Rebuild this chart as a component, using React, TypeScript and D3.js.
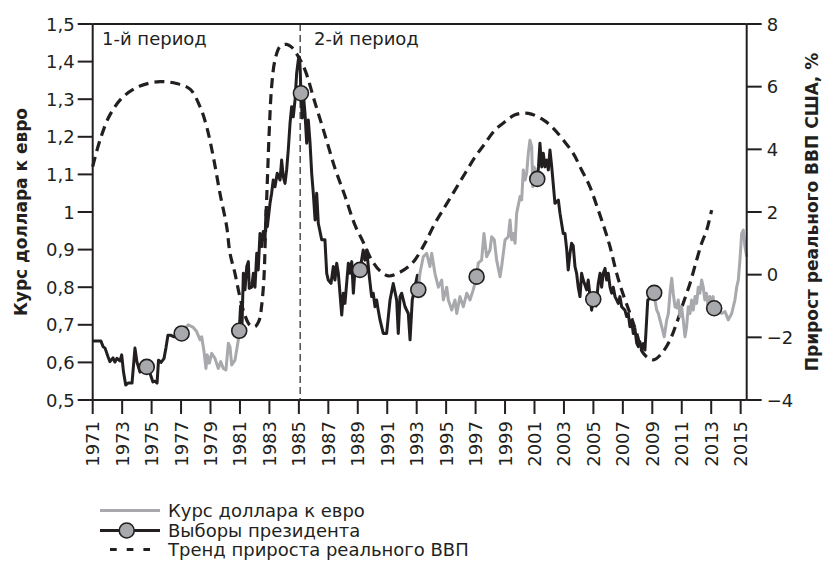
import React from "react";
import * as d3 from "d3";

// ---------- DATA ----------
const xTickYears: number[] = d3.range(1971, 2016, 2);
const leftTicks: number[] = [0.5, 0.6, 0.7, 0.8, 0.9, 1.0, 1.1, 1.2, 1.3, 1.4, 1.5];
const leftTickLabels: string[] = ["0,5", "0,6", "0,7", "0,8", "0,9", "1", "1,1", "1,2", "1,3", "1,4", "1,5"];
const rightTicks: number[] = [-4, -2, 0, 2, 4, 6, 8];
const rightTickLabels: string[] = ["\u22124", "\u22122", "0", "2", "4", "6", "8"];

// exchange rate, periods of Republican administrations (black)
const rateBlack1: [number, number][] = [
  [1971.0, 0.657], [1971.56, 0.657], [1971.7, 0.642], [1971.84, 0.638], [1972.04, 0.615],
  [1972.17, 0.602], [1972.38, 0.612], [1972.51, 0.601], [1972.65, 0.611], [1972.85, 0.604],
  [1972.97, 0.62], [1973.09, 0.575], [1973.24, 0.54], [1973.4, 0.545], [1973.67, 0.545],
  [1973.87, 0.638], [1974.01, 0.6], [1974.21, 0.574], [1974.42, 0.585], [1974.67, 0.588],
  [1974.89, 0.571], [1975.09, 0.548], [1975.23, 0.55], [1975.37, 0.545], [1975.47, 0.606],
  [1975.64, 0.6], [1975.84, 0.61], [1975.98, 0.64], [1976.11, 0.672], [1976.32, 0.672],
  [1976.52, 0.668], [1976.72, 0.675], [1977.04, 0.677],
];
const rateGray1: [number, number][] = [
  [1977.04, 0.677], [1977.27, 0.69], [1977.49, 0.7], [1977.83, 0.693], [1978.06, 0.682],
  [1978.29, 0.66], [1978.4, 0.668], [1978.56, 0.629], [1978.69, 0.584], [1978.78, 0.62],
  [1978.92, 0.598], [1979.08, 0.624], [1979.3, 0.611], [1979.53, 0.584], [1979.69, 0.602],
  [1979.87, 0.584], [1980.05, 0.58], [1980.21, 0.651], [1980.32, 0.642], [1980.44, 0.593],
  [1980.66, 0.606], [1980.89, 0.66], [1980.95, 0.684],
];
const rateBlack2: [number, number][] = [
  [1980.95, 0.684], [1981.04, 0.75], [1981.14, 0.7], [1981.23, 0.837], [1981.34, 0.793],
  [1981.46, 0.855], [1981.57, 0.868], [1981.63, 0.797], [1981.8, 0.8], [1981.91, 0.837],
  [1982.02, 0.8], [1982.14, 0.89], [1982.24, 0.846], [1982.36, 0.943], [1982.48, 0.908],
  [1982.58, 0.948], [1982.7, 0.926], [1982.77, 1.005], [1982.86, 0.961], [1983.04, 1.023],
  [1983.15, 1.05], [1983.26, 1.085], [1983.38, 1.067], [1983.53, 1.103], [1983.72, 1.085],
  [1983.83, 1.138], [1983.94, 1.094], [1984.06, 1.076], [1984.17, 1.112], [1984.28, 1.165],
  [1984.4, 1.236], [1984.51, 1.28], [1984.62, 1.253], [1984.74, 1.298], [1984.85, 1.369],
  [1984.96, 1.404], [1985.04, 1.412], [1985.09, 1.38], [1985.14, 1.316], [1985.23, 1.25],
  [1985.3, 1.316], [1985.42, 1.26], [1985.53, 1.183], [1985.64, 1.245], [1985.76, 1.183],
  [1985.87, 1.103], [1985.98, 1.05], [1986.1, 0.979], [1986.21, 1.05], [1986.32, 0.97],
  [1986.55, 0.926], [1986.77, 0.926], [1986.89, 0.837], [1987.0, 0.819], [1987.18, 0.81],
  [1987.34, 0.855], [1987.45, 0.819], [1987.57, 0.864], [1987.68, 0.837], [1987.79, 0.784],
  [1987.91, 0.726], [1988.02, 0.784], [1988.13, 0.757], [1988.36, 0.864], [1988.47, 0.837],
  [1988.59, 0.868], [1988.7, 0.784], [1988.81, 0.846], [1989.01, 0.85], [1989.15, 0.846],
  [1989.37, 0.899], [1989.49, 0.872], [1989.61, 0.899], [1989.76, 0.837], [1989.94, 0.775],
  [1990.05, 0.784], [1990.17, 0.748], [1990.28, 0.766], [1990.39, 0.739], [1990.51, 0.713],
  [1990.73, 0.677], [1990.96, 0.677], [1991.19, 0.766], [1991.41, 0.81], [1991.64, 0.766],
  [1991.75, 0.677], [1991.87, 0.775], [1991.98, 0.784], [1992.21, 0.748], [1992.43, 0.73],
  [1992.55, 0.66], [1992.7, 0.766], [1992.88, 0.8], [1993.05, 0.832], [1993.11, 0.793],
];
const rateGray2: [number, number][] = [
  [1993.11, 0.793], [1993.22, 0.837], [1993.45, 0.881], [1993.68, 0.89], [1993.9, 0.855],
  [1994.02, 0.89], [1994.24, 0.837], [1994.47, 0.8], [1994.7, 0.819], [1994.81, 0.766],
  [1995.04, 0.8], [1995.15, 0.766], [1995.38, 0.739], [1995.6, 0.766], [1995.72, 0.73],
  [1995.94, 0.775], [1996.17, 0.748], [1996.4, 0.784], [1996.62, 0.766], [1996.84, 0.793],
  [1997.07, 0.828], [1997.18, 0.864], [1997.41, 0.872], [1997.57, 0.943], [1997.75, 0.881],
  [1997.98, 0.899], [1998.09, 0.934], [1998.27, 0.926], [1998.43, 0.872], [1998.66, 0.828],
  [1998.77, 0.855], [1999.0, 0.926], [1999.22, 0.934], [1999.34, 0.979], [1999.45, 0.926],
  [1999.56, 0.943], [1999.68, 0.917], [1999.79, 0.997], [2000.02, 1.041], [2000.13, 1.032],
  [2000.24, 1.112], [2000.36, 1.085], [2000.47, 1.103], [2000.58, 1.156], [2000.69, 1.191],
  [2000.81, 1.174], [2000.88, 1.067], [2000.97, 1.12], [2001.19, 1.088],
];
const rateBlack3: [number, number][] = [
  [2001.19, 1.088], [2001.27, 1.12], [2001.37, 1.183], [2001.49, 1.12], [2001.6, 1.156],
  [2001.71, 1.12], [2001.83, 1.138], [2001.94, 1.112], [2002.05, 1.165], [2002.17, 1.12],
  [2002.39, 1.023], [2002.62, 1.032], [2002.73, 0.997], [2002.95, 0.943], [2003.07, 0.943],
  [2003.19, 0.899], [2003.29, 0.846], [2003.41, 0.89], [2003.52, 0.917], [2003.63, 0.91],
  [2003.75, 0.855], [2003.86, 0.837], [2003.97, 0.8], [2004.09, 0.775], [2004.2, 0.837],
  [2004.31, 0.819], [2004.54, 0.793], [2004.65, 0.819], [2004.88, 0.739], [2004.99, 0.768],
  [2005.18, 0.75], [2005.33, 0.81], [2005.45, 0.837], [2005.56, 0.8], [2005.67, 0.837],
  [2005.79, 0.85], [2005.9, 0.819], [2006.01, 0.837], [2006.13, 0.8], [2006.24, 0.784],
  [2006.35, 0.8], [2006.47, 0.775], [2006.69, 0.757], [2006.8, 0.775], [2006.92, 0.748],
  [2007.14, 0.739], [2007.26, 0.722], [2007.37, 0.73], [2007.48, 0.695], [2007.6, 0.71],
  [2007.71, 0.677], [2007.82, 0.69], [2007.94, 0.651], [2008.05, 0.642], [2008.16, 0.655],
  [2008.28, 0.633], [2008.39, 0.65], [2008.5, 0.633], [2008.69, 0.766], [2008.84, 0.77],
  [2009.13, 0.785],
];
const rateGray3: [number, number][] = [
  [2009.13, 0.785], [2009.18, 0.766], [2009.3, 0.739], [2009.41, 0.73], [2009.64, 0.695],
  [2009.81, 0.668], [2009.98, 0.713], [2010.09, 0.73], [2010.2, 0.784], [2010.32, 0.824],
  [2010.42, 0.784], [2010.54, 0.748], [2010.65, 0.745], [2010.76, 0.766], [2010.88, 0.722],
  [2010.99, 0.748], [2011.1, 0.713], [2011.22, 0.668], [2011.33, 0.695], [2011.44, 0.748],
  [2011.56, 0.73], [2011.67, 0.766], [2011.78, 0.739], [2011.9, 0.775], [2012.01, 0.757],
  [2012.12, 0.8], [2012.23, 0.784], [2012.35, 0.819], [2012.46, 0.8], [2012.57, 0.766],
  [2012.68, 0.784], [2012.79, 0.748], [2012.91, 0.775], [2013.02, 0.757], [2013.13, 0.775],
  [2013.2, 0.744], [2013.48, 0.739], [2013.71, 0.73], [2013.94, 0.735], [2014.16, 0.713],
  [2014.39, 0.73], [2014.61, 0.766], [2014.73, 0.8], [2014.84, 0.819], [2014.95, 0.872],
  [2015.07, 0.943], [2015.18, 0.952], [2015.29, 0.908], [2015.41, 0.881],
];

const electionYears: number[] = [1974.67, 1977.04, 1980.95, 1985.14, 1989.15, 1993.11, 1997.07, 2001.19, 2004.99, 2009.13, 2013.2];
const electionValues: number[] = [0.588, 0.677, 0.684, 1.316, 0.846, 0.793, 0.828, 1.088, 0.768, 0.785, 0.744];

// trend of real GDP growth, %
const gdpYears: number[] = [
  1971.0, 1971.5, 1972.17, 1973.08, 1974.21, 1975.57, 1976.7, 1977.61, 1978.29, 1978.74,
  1979.19, 1979.64, 1980.1, 1980.32, 1980.66, 1980.99, 1981.33, 1981.67, 1982.01, 1982.31,
  1982.47, 1982.63, 1982.73, 1982.86, 1982.99, 1983.15, 1983.38, 1983.72, 1984.17, 1984.51,
  1984.96, 1985.42, 1986.1, 1986.77, 1987.45, 1988.13, 1988.81, 1989.37, 1989.94, 1990.51,
  1991.07, 1991.75, 1992.43, 1992.88, 1993.56, 1994.24, 1994.92, 1995.6, 1996.28, 1996.97,
  1997.64, 1998.32, 1999.0, 1999.68, 2000.58, 2001.6, 2002.28, 2002.95, 2003.63, 2004.2,
  2004.76, 2005.33, 2005.79, 2006.13, 2006.58, 2006.92, 2007.48, 2007.94, 2008.39, 2009.07,
  2009.64, 2010.2, 2010.65, 2011.1, 2011.56, 2012.01, 2012.35, 2012.69, 2013.03,
];
const gdpValues: number[] = [
  3.45, 4.3, 5.1, 5.68, 6.02, 6.16, 6.1, 5.92, 5.36, 4.72,
  3.76, 2.6, 1.53, 0.69, 0.04, -0.7, -1.29, -1.61, -1.66, -1.45,
  -1.0, -0.1, 1.3, 3.0, 4.6, 6.0, 6.85, 7.28, 7.35, 7.26,
  6.96, 6.53, 5.48, 4.46, 3.4, 2.51, 1.58, 1.04, 0.47, 0.12,
  -0.04, 0.05, 0.25, 0.47, 1.0, 1.64, 2.17, 2.7, 3.23, 3.76,
  4.19, 4.62, 4.88, 5.1, 5.15, 4.94, 4.67, 4.3, 3.87, 3.34,
  2.81, 2.06, 1.42, 0.89, 0.04, -0.49, -1.23, -1.87, -2.51, -2.72,
  -2.51, -2.09, -1.55, -0.91, -0.28, 0.47, 1.0, 1.42, 2.06,
];

const divider = 1985.09;

// ---------- STYLE ----------
const W = 824;
const H = 563;
const L = 92.7;
const R = 746.7;
const T = 24;
const B = 400;
const INK = "#231f20";
const GRAY = "#a7a9ac";
const FONT = "'DejaVu Sans', sans-serif";

export default function App() {
  const x = d3.scaleLinear().domain([1971, 2015.41]).range([L, R]);
  const yL = d3.scaleLinear().domain([0.5, 1.5]).range([B, T]);
  const yR = d3.scaleLinear().domain([-4, 8]).range([B, T]);

  const rateLine = d3
    .line<[number, number]>()
    .x((d) => x(d[0]))
    .y((d) => yL(d[1]));

  const gdpPts: [number, number][] = gdpYears.map((yr, i) => [yr, gdpValues[i]]);
  const gdpLine = d3
    .line<[number, number]>()
    .x((d) => x(d[0]))
    .y((d) => yR(d[1]))
    .curve(d3.curveCatmullRom.alpha(0.5));

  const segs = [
    { d: rateBlack1, c: INK },
    { d: rateGray1, c: GRAY },
    { d: rateBlack2, c: INK },
    { d: rateGray2, c: GRAY },
    { d: rateBlack3, c: INK },
    { d: rateGray3, c: GRAY },
  ];

  const legendY = [510.5, 530.5, 549.5];

  return (
    <svg
      width={W}
      height={H}
      viewBox={`0 0 ${W} ${H}`}
      style={{ position: "absolute", left: 0, top: 0, background: "#fff" }}
      fontFamily={FONT}
    >
      <rect x={0} y={0} width={W} height={H} fill="#fff" />

      {/* period divider */}
      <line
        x1={x(divider)}
        x2={x(divider)}
        y1={T}
        y2={B}
        stroke="#4d4d4d"
        strokeWidth={1.5}
        strokeDasharray="7,4"
      />

      {/* GDP trend */}
      <path
        d={gdpLine(gdpPts) || ""}
        fill="none"
        stroke={INK}
        strokeWidth={3.2}
        strokeDasharray="10,6"
      />

      {/* exchange rate */}
      {segs.map((s, i) => (
        <path
          key={i}
          d={rateLine(s.d) || ""}
          fill="none"
          stroke={s.c}
          strokeWidth={3}
          strokeLinejoin="round"
        />
      ))}

      {/* elections */}
      {electionYears.map((yr, i) => (
        <circle
          key={i}
          cx={x(yr)}
          cy={yL(electionValues[i])}
          r={7.5}
          fill={GRAY}
          stroke={INK}
          strokeWidth={1.6}
        />
      ))}

      {/* frame / axes */}
      <line x1={L} x2={R} y1={T} y2={T} stroke={INK} strokeWidth={2} />
      <line x1={L} x2={L} y1={T} y2={B} stroke={INK} strokeWidth={2} />
      <line x1={R} x2={R} y1={T} y2={B} stroke={INK} strokeWidth={2} />
      <line x1={L} x2={R} y1={B} y2={B} stroke={INK} strokeWidth={2} />

      {/* left axis */}
      {leftTicks.map((v, i) => (
        <g key={i}>
          <line x1={L - 15} x2={L} y1={yL(v)} y2={yL(v)} stroke={INK} strokeWidth={2} />
          <text
            x={L - 18}
            y={yL(v)}
            textAnchor="end"
            dominantBaseline="central"
            fontSize={18}
            fill={INK}
          >
            {leftTickLabels[i]}
          </text>
        </g>
      ))}

      {/* right axis */}
      {rightTicks.map((v, i) => (
        <g key={i}>
          <line x1={R} x2={R + 15} y1={yR(v)} y2={yR(v)} stroke={INK} strokeWidth={2} />
          <text
            x={R + 20}
            y={yR(v)}
            textAnchor="start"
            dominantBaseline="central"
            fontSize={18}
            fill={INK}
          >
            {rightTickLabels[i]}
          </text>
        </g>
      ))}

      {/* bottom axis */}
      {xTickYears.map((yr) => (
        <g key={yr}>
          <line x1={x(yr)} x2={x(yr)} y1={B} y2={B + 14} stroke={INK} strokeWidth={2} />
          <text
            transform={`translate(${x(yr)},${B + 21}) rotate(-90)`}
            textAnchor="end"
            dominantBaseline="central"
            fontSize={18}
            fill={INK}
          >
            {yr}
          </text>
        </g>
      ))}

      {/* axis titles */}
      <text
        transform={`translate(26.5,${(T + B) / 2}) rotate(-90)`}
        textAnchor="middle"
        fontSize={17}
        fontWeight="bold"
        fill={INK}
      >
        Курс доллара к евро
      </text>
      <text
        transform={`translate(818,${(T + B) / 2}) rotate(-90)`}
        textAnchor="middle"
        fontSize={17}
        fontWeight="bold"
        fill={INK}
      >
        Прирост реального ВВП США, %
      </text>

      {/* period labels */}
      <text x={102} y={45} fontSize={18} fill={INK}>
        1-й период
      </text>
      <text x={314} y={45} fontSize={18} fill={INK}>
        2-й период
      </text>

      {/* legend */}
      <line x1={100} x2={160} y1={legendY[0]} y2={legendY[0]} stroke={GRAY} strokeWidth={3} />
      <text x={168} y={legendY[0]} dominantBaseline="central" fontSize={18} fill={INK}>
        Курс доллара к евро
      </text>
      <line x1={100} x2={160} y1={legendY[1]} y2={legendY[1]} stroke={INK} strokeWidth={3} />
      <circle cx={126.7} cy={legendY[1]} r={7.5} fill={GRAY} stroke={INK} strokeWidth={1.6} />
      <text x={168} y={legendY[1]} dominantBaseline="central" fontSize={18} fill={INK}>
        Выборы президента
      </text>
      <line
        x1={110}
        x2={150}
        y1={legendY[2]}
        y2={legendY[2]}
        stroke={INK}
        strokeWidth={3}
        strokeDasharray="6.7,10"
      />
      <text x={168} y={legendY[2]} dominantBaseline="central" fontSize={18} fill={INK}>
        Тренд прироста реального ВВП
      </text>
    </svg>
  );
}
